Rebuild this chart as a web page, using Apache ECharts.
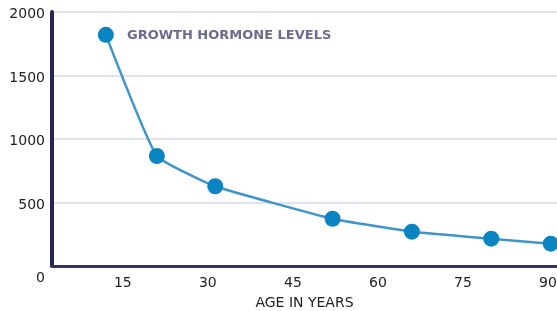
<!DOCTYPE html>
<html>
<head>
<meta charset="utf-8">
<script src="https://cdn.jsdelivr.net/npm/echarts@6/dist/echarts.min.js"></script>
<style>
html,body{margin:0;padding:0;background:#fff;}
#chart{width:557px;height:311px;}
</style>
</head>
<body>
<div id="chart"></div>
<script>
// 数据
var ages = [12, 21, 31.3, 52, 66, 80, 90.5];
var levels = [1820, 866, 628, 372, 270, 215, 176];
var xTicks = [15, 30, 45, 60, 75, 90];
var seriesName = 'GROWTH HORMONE LEVELS';

var points = [];
for (var i = 0; i < ages.length; i++) {
	points.push([ages[i], levels[i]]);
}

var myChart = echarts.init(document.getElementById('chart'));
option = {
	animation: false,
	title: {
		text: seriesName,
		left: 122,
		top: 24,
		textStyle: {
			fontFamily: 'DejaVu Sans',
			fontSize: 13,
			fontWeight: 'bold',
			color: '#6c6c8c'
		}
	},
	grid: {
		left: 52,
		right: 0,
		top: 12,
		bottom: 45,
		containLabel: false,
		outerBoundsMode: 'none'
	},
	xAxis: {
		type: 'value',
		min: 2.5,
		max: 91.6,
		name: 'AGE IN YEARS',
		nameLocation: 'middle',
		nameGap: 30,
		nameTextStyle: {
			fontFamily: 'DejaVu Sans',
			fontSize: 14,
			color: '#222'
		},
		axisLine: {
			lineStyle: { color: '#34345e', width: 3 }
		},
		axisTick: { show: false },
		splitLine: { show: false },
		axisLabel: {
			customValues: xTicks,
			margin: 10,
			fontFamily: 'DejaVu Sans',
			fontSize: 14,
			color: '#222'
		}
	},
	yAxis: {
		type: 'value',
		min: 0,
		max: 2000,
		interval: 500,
		axisLine: {
			show: true,
			lineStyle: { color: '#262650', width: 4 }
		},
		axisTick: { show: false },
		splitLine: {
			lineStyle: { color: '#dfe2ef', width: 2 }
		},
		axisLabel: {
			margin: 7,
			fontFamily: 'DejaVu Sans',
			fontSize: 14,
			color: '#222',
			formatter: function (v) {
				return v === 0 ? '{z|0}' : '{n|' + v + '}';
			},
			rich: {
				n: {
					fontFamily: 'DejaVu Sans',
					fontSize: 14,
					color: '#222',
					padding: [5, 0, 0, 0]
				},
				z: {
					fontFamily: 'DejaVu Sans',
					fontSize: 14,
					color: '#222',
					padding: [24, 0, 0, 0]
				}
			}
		}
	},
	series: [{
		name: seriesName,
		type: 'line',
		smooth: 0.12,
		data: points,
		symbol: 'circle',
		symbolSize: 16,
		lineStyle: { color: '#3f94c8', width: 2.5 },
		itemStyle: { color: '#0a85c2' }
	}]
};
myChart.setOption(option);
</script>
</body>
</html>
